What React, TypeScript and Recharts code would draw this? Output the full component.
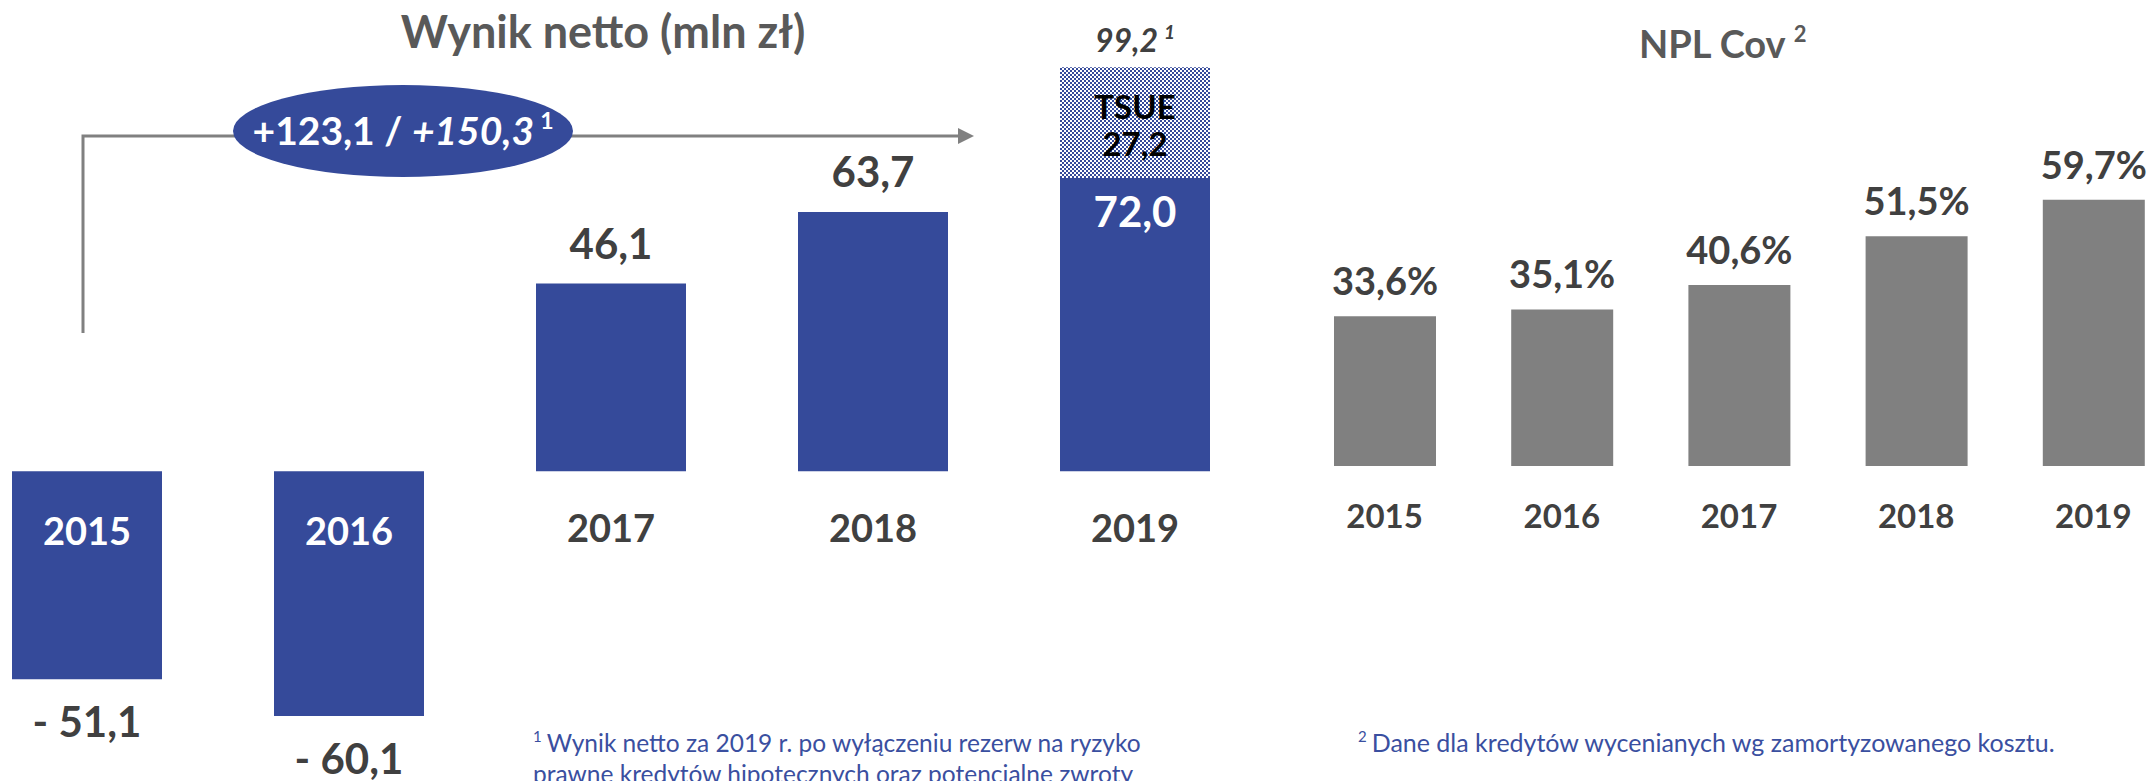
import React from 'react';
import { BarChart, Bar, XAxis, YAxis, LabelList } from 'recharts';

const years = ['2015', '2016', '2017', '2018', '2019'];
const netResult = [-51.1, -60.1, 46.1, 63.7, 72.0];
const tsueReserve = [0, 0, 0, 0, 27.2];
const nplCoverage = [33.6, 35.1, 40.6, 51.5, 59.7];

const BLUE = '#354A9A';
const GREY_BAR = '#808080';
const DARK = '#404040';
const TITLE = '#595959';
const NOTE = '#3A4FA0';
const FONT = 'Lato, "Open Sans", sans-serif';

const netData = years.map((year, i) => ({ year, net: netResult[i], tsue: tsueReserve[i] }));
const nplData = years.map((year, i) => ({ year, npl: nplCoverage[i] }));

const fmt = (v: number) => (v < 0 ? '- ' : '') + Math.abs(v).toFixed(1).replace('.', ',');

// pulls the bar rectangle out of label props (viewBox in v3, flat props in older builds)
const rectOf = (p: any) => {
  const v = p.viewBox ?? p;
  const x = v.x ?? p.x;
  const y = v.y ?? p.y;
  const w = v.width ?? p.width;
  const h = v.height ?? p.height;
  return { x, w, top: Math.min(y, y + h), bottom: Math.max(y, y + h) };
};

const NetLabel = (props: any) => {
  const i = years.indexOf(String(props.value));
  if (i < 0) return null;
  const { x, w, top, bottom } = rectOf(props);
  const cx = x + w / 2;
  const v = netResult[i];
  const hasTsue = tsueReserve[i] > 0;
  const txt = { fontFamily: FONT, fontWeight: 700, textAnchor: 'middle' as const };
  if (v < 0) {
    return (
      <g>
        <text x={cx} y={top + 74} fill="#fff" fontSize={38} {...txt}>{years[i]}</text>
        <text x={cx} y={bottom + 58} fill={DARK} fontSize={42} {...txt}>{fmt(v)}</text>
      </g>
    );
  }
  return (
    <g>
      <text x={cx} y={bottom + 71} fill={DARK} fontSize={38} {...txt}>{years[i]}</text>
      {hasTsue ? (
        <text x={cx} y={top + 49} fill="#fff" fontSize={42} {...txt}>{fmt(v)}</text>
      ) : (
        <text x={cx} y={top - 25} fill={DARK} fontSize={42} {...txt}>{fmt(v)}</text>
      )}
    </g>
  );
};

const TsueLabel = (props: any) => {
  const t = Number(props.value);
  if (!t) return null;
  const i = tsueReserve.indexOf(t);
  const { x, w, top, bottom } = rectOf(props);
  const cx = x + w / 2;
  const mid = (top + bottom) / 2;
  const total = netResult[i] + t;
  return (
    <g fontFamily={FONT} fontWeight={700} textAnchor="middle">
      <text x={cx} y={mid - 4} fill="#000" fontSize={33}>TSUE</text>
      <text x={cx} y={mid + 33} fill="#000" fontSize={33}>{fmt(t)}</text>
      <text x={cx} y={top - 15} fill={DARK} fontSize={32} fontStyle="italic">
        {fmt(total)}
        <tspan fontSize={19} dy={-13} dx={6}>1</tspan>
      </text>
    </g>
  );
};

const NplLabel = (props: any) => {
  const { x, w, top } = rectOf(props);
  return (
    <text x={x + w / 2} y={top - 21} fill={DARK} fontSize={38} fontWeight={700}
      fontFamily={FONT} textAnchor="middle">
      {fmt(props.value) + '%'}
    </text>
  );
};

const YearTick = ({ x, y, payload }: any) => (
  <text x={x} y={y + 62} fill={DARK} fontSize={33} fontWeight={700}
    fontFamily={FONT} textAnchor="middle">
    {payload.value}
  </text>
);

export default function App() {
  return (
    <div style={{ position: 'relative', width: 2150, height: 781, overflow: 'hidden', background: '#fff', fontFamily: FONT }}>
      <style>{'body{margin:0}'}</style>

      <div style={{ position: 'absolute', left: -44, top: 0 }}>
        <BarChart width={1310} height={797} data={netData} margin={{ top: 3, right: 0, bottom: 0, left: 0 }}>
          <defs>
            <pattern id="tsueChecker" width="4" height="4" patternUnits="userSpaceOnUse">
              <rect width="4" height="4" fill="#fff" />
              <rect width="2" height="2" fill={BLUE} />
              <rect x="2" y="2" width="2" height="2" fill={BLUE} />
            </pattern>
          </defs>
          <XAxis dataKey="year" hide />
          <YAxis hide domain={[-80, 115]} allowDataOverflow />
          <Bar dataKey="net" stackId="a" fill={BLUE} barSize={150} isAnimationActive={false}>
            <LabelList dataKey="year" content={NetLabel} />
          </Bar>
          <Bar dataKey="tsue" stackId="a" fill="url(#tsueChecker)" barSize={150} isAnimationActive={false}>
            <LabelList dataKey="tsue" content={TsueLabel} />
          </Bar>
        </BarChart>
      </div>

      <div style={{ position: 'absolute', left: 1296, top: 0 }}>
        <BarChart width={886} height={566} data={nplData} margin={{ top: 20, right: 0, bottom: 0, left: 0 }}>
          <XAxis dataKey="year" axisLine={false} tickLine={false} tickSize={0} tickMargin={0}
            height={100} interval={0} tick={<YearTick />} />
          <YAxis hide domain={[0, 100]} allowDataOverflow />
          <Bar dataKey="npl" fill={GREY_BAR} barSize={102} isAnimationActive={false}>
            <LabelList dataKey="npl" content={NplLabel} />
          </Bar>
        </BarChart>
      </div>

      <svg width={2150} height={781} style={{ position: 'absolute', left: 0, top: 0, pointerEvents: 'none' }}
        fontFamily={FONT}>
        <text x={603} y={48} fill={TITLE} fontSize={45} fontWeight={700} textAnchor="middle">
          Wynik netto (mln zł)
        </text>
        <text x={1639} y={58} fill={TITLE} fontSize={38} fontWeight={700}>
          NPL Cov<tspan fontSize={22} dy={-16} dx={8}>2</tspan>
        </text>

        <polyline points="83,333 83,136 960,136" fill="none" stroke="#808080" strokeWidth={3} />
        <polygon points="958,128 974,136 958,144" fill="#808080" />
        <ellipse cx={403} cy={131} rx={170} ry={46} fill={BLUE} />
        <text x={403} y={145} fill="#fff" fontSize={39} fontWeight={700} textAnchor="middle">
          +123,1 / <tspan fontStyle="italic">+150,3</tspan>
          <tspan fontSize={23} dy={-16} dx={6}>1</tspan>
        </text>

        <text x={533} y={752} fill={NOTE} fontSize={24.5}>
          <tspan fontSize={15} dy={-10}>1</tspan>
          <tspan dx={5} dy={10}>Wynik netto za 2019 r. po wyłączeniu rezerw na ryzyko</tspan>
        </text>
        <text x={533} y={783} fill={NOTE} fontSize={24.5}>
          prawne kredytów hipotecznych oraz potencjalne zwroty
        </text>
        <text x={1358} y={752} fill={NOTE} fontSize={25}>
          <tspan fontSize={15} dy={-10}>2</tspan>
          <tspan dx={5} dy={10}>Dane dla kredytów wycenianych wg zamortyzowanego kosztu.</tspan>
        </text>
      </svg>
    </div>
  );
}
